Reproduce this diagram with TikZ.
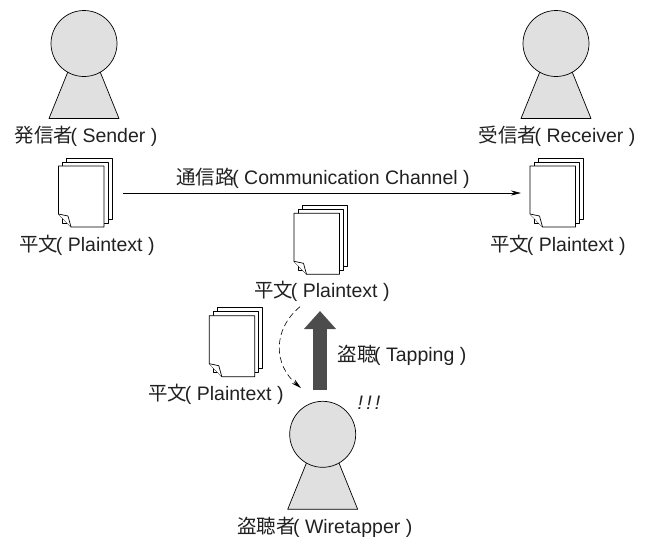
\documentclass[tikz,border=0pt]{standalone}
\usepackage{fontspec}
\setmainfont{Liberation Sans}
\newfontfamily\cjk{Noto Sans CJK JP}
\usetikzlibrary{arrows.meta}
\definecolor{figgray}{gray}{0.88}
\definecolor{tapgray}{gray}{0.3}
\definecolor{inkgray}{gray}{0.13}
\newcommand{\jlabel}[2]{{\cjk #1}\hspace{-2.5pt}( #2 )}
\tikzset{
  lbl/.style={inner sep=0pt, text=inkgray, font=\fontsize{19.5}{22}\selectfont},
  head/.style={circle, draw, fill=figgray, minimum size=66pt, inner sep=0pt, line width=0.7pt},
  page/.style={draw, fill=white, line width=0.7pt, line join=round},
  flow/.style={-{Stealth[length=10pt,width=5pt]}, line width=0.6pt},
  person/.pic={
    \fill[figgray, draw=black, line width=0.7pt, line join=round] (-16,-28) -- (-35,-75) -- (35,-75) -- (16,-28) -- cycle;
    \node[head] at (0,0) {};
  },
  docs/.pic={
    \draw[page] (8,8) rectangle (53.5,-53);
    \draw[page] (4,4) rectangle (49.5,-57);
    \draw[page] (0,0) -- (45.5,0) -- (45.5,-61) -- (12.5,-61) -- (0,-48) -- cycle;
    \draw[page] (0,-48) -- (9.5,-50) -- (12.5,-61);
  }
}
\begin{document}
\begin{tikzpicture}[x=1pt, y=1pt]
  \useasboundingbox (0,-536) rectangle (648,0);
  % people
  \pic at (84,-43.5) {person};
  \pic at (556,-43.5) {person};
  \pic at (322.7,-434.3) {person};
  % sheets
  \pic at (58.5,-166) {docs};
  \pic at (530,-166) {docs};
  \pic at (294,-213.3) {docs};
  \pic at (209.3,-315.7) {docs};
  % labels
  \node (sender) [lbl] at (86,-136.5) {\jlabel{発信者}{Sender}};
  \node (receiver) [lbl] at (557,-136.5) {\jlabel{受信者}{Receiver}};
  \node (plainA) [lbl] at (87,-245) {\jlabel{平文}{Plaintext}};
  \node (plainB) [lbl] at (558,-245) {\jlabel{平文}{Plaintext}};
  \node (plainC) [lbl] at (322,-291.5) {\jlabel{平文}{Plaintext}};
  \node (plainD) [lbl] at (216,-394) {\jlabel{平文}{Plaintext}};
  \node (channel) [lbl] at (323,-178) {\jlabel{通信路}{Communication Channel}};
  \node (tapping) [lbl] at (402,-355) {\jlabel{盗聴}{Tapping}};
  \node (wiretapper) [lbl] at (324.7,-527) {\jlabel{盗聴者}{Wiretapper}};
  \node (alarm) [lbl] at (369,-403) {\textit{!\,!\,!}};
  % connectors
  \coordinate (chanA) at (123,-193);
  \coordinate (chanB) at (521,-193);
  \coordinate (tapA) at (320,-390);
  \coordinate (tapB) at (320,-311);
  \coordinate (copyA) at (300,-306.7);
  \coordinate (copyB) at (301,-388);
  \draw[flow] (chanA) -- (chanB);
  \draw[line width=14.5pt, tapgray, -{Triangle[length=18pt,width=31pt]}] (tapA) -- (tapB);
  \draw[flow, dash pattern=on 6pt off 3.5pt] (copyA) .. controls (272,-330) and (274,-365) .. (copyB);
\end{tikzpicture}
\end{document}
